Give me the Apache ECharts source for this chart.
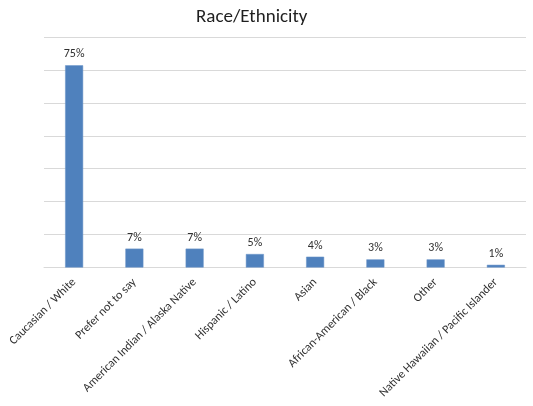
<!DOCTYPE html>
<html>
<head>
<meta charset="utf-8">
<script src="https://cdn.jsdelivr.net/npm/echarts@6/dist/echarts.min.js"></script>
<style>
  html, body { margin: 0; padding: 0; background: #fff; }
  #chart { width: 533px; height: 406px; }
</style>
</head>
<body>
<div id="chart"></div>
<script>
// Survey responses by race / ethnicity (percent of respondents)
const categories = [
  'Caucasian / White',
  'Prefer not to say',
  'American Indian / Alaska Native',
  'Hispanic / Latino',
  'Asian',
  'African-American / Black',
  'Other',
  'Native Hawaiian / Pacific Islander'
];
const percentages = [75, 7, 7, 5, 4, 3, 3, 1];
const chartTitle = 'Race/Ethnicity';

const FONT = 'Carlito, Calibri, "Open Sans", "Liberation Sans", sans-serif';
const yMax = 85.5;

const chart = echarts.init(document.getElementById('chart'), null, { renderer: 'canvas' });
chart.setOption({
  animation: false,
  backgroundColor: '#ffffff',
  title: {
    text: chartTitle,
    left: 191,
    top: 3,
    textStyle: { fontFamily: FONT, fontSize: 19, fontWeight: 'normal', color: '#1f1f1f' }
  },
  grid: { left: 44, right: 7, top: 37, bottom: 138.5, containLabel: false },
  xAxis: {
    type: 'category',
    data: categories,
    axisTick: { show: false },
    axisLine: { lineStyle: { color: '#d9d9d9', width: 1 } },
    axisLabel: {
      interval: 0,
      rotate: 45,
      margin: 13,
      fontFamily: FONT,
      fontSize: 12,
      color: '#303030'
    }
  },
  yAxis: {
    type: 'value',
    min: 0,
    max: yMax,
    interval: yMax / 7,
    axisLabel: { show: false },
    axisLine: { show: false },
    axisTick: { show: false },
    splitLine: { lineStyle: { color: '#d9d9d9', width: 1 } }
  },
  series: [{
    type: 'bar',
    data: percentages,
    barWidth: 18,
    itemStyle: { color: '#4f81bd', borderColor: '#6a95c9', borderWidth: 0.5 },
    label: {
      show: true,
      position: 'top',
      distance: 5,
      formatter: p => Math.round(p.value) + '%',
      fontFamily: FONT,
      fontSize: 12,
      color: '#303030'
    }
  }]
});
</script>
</body>
</html>
